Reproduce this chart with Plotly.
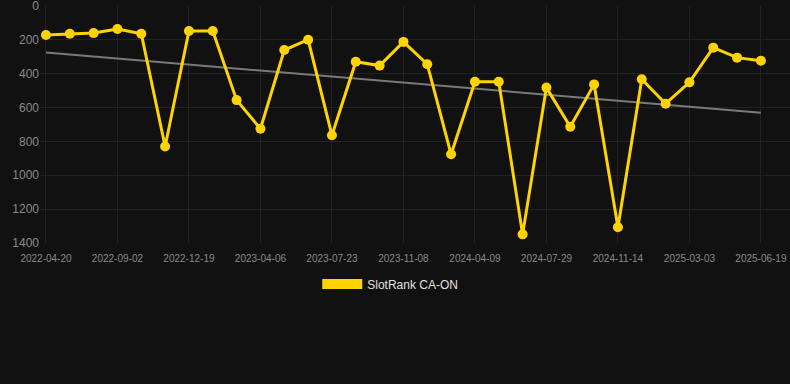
import plotly.graph_objects as go

dates = ["2022-04-20", "2022-06-04", "2022-07-19", "2022-09-02", "2022-10-08", "2022-11-13",
         "2022-12-19", "2023-01-24", "2023-02-28", "2023-04-06", "2023-05-12", "2023-06-17",
         "2023-07-23", "2023-08-28", "2023-10-03", "2023-11-08", "2023-12-29", "2024-02-18",
         "2024-04-09", "2024-05-16", "2024-06-22", "2024-07-29", "2024-09-03", "2024-10-09",
         "2024-11-14", "2024-12-20", "2025-01-25", "2025-03-03", "2025-04-08", "2025-05-14",
         "2025-06-19"]
rank = [171, 164, 160, 136, 164, 830, 148, 148, 556, 725, 260, 199, 764, 329, 352, 212,
        344, 876, 447, 447, 1349, 482, 713, 463, 1307, 433, 577, 451, 246, 305, 323]
trend_x = [dates[0], dates[-1]]
trend_y = [275, 630]
series_name = "SlotRank CA-ON"

YELLOW = "#FFD300"
fig = go.Figure()
fig.add_trace(go.Scatter(x=trend_x, y=trend_y, mode="lines",
                         line=dict(color="#7a7a7a", width=2), showlegend=False,
                         hoverinfo="skip"))
fig.add_trace(go.Scatter(x=dates, y=rank, mode="lines+markers", name=series_name,
                         line=dict(color=YELLOW, width=3),
                         marker=dict(color=YELLOW, size=10), showlegend=False))
# legend entry (rectangle swatch)
fig.add_trace(go.Scatter(x=[None], y=[None], mode="lines", name=series_name,
                         line=dict(color=YELLOW, width=12), showlegend=True))

fig.update_layout(
    width=790, height=384,
    paper_bgcolor="#111111", plot_bgcolor="#111111",
    margin=dict(l=40, r=0, t=6, b=141),
    font=dict(family="Liberation Sans, Arial, sans-serif", color="#8a8a8a"),
    legend=dict(orientation="h", x=0.467, xanchor="center", y=-0.173, yanchor="middle",
                font=dict(size=12, color="#e0e0e0"), itemwidth=40,
                bgcolor="rgba(0,0,0,0)"),
    xaxis=dict(type="category", categoryorder="array", categoryarray=dates,
               range=[-0.25, 31.22], tickmode="array",
               tickvals=dates[::3], ticktext=dates[::3],
               tickfont=dict(size=10, color="#8a8a8a"),
               showgrid=True, gridcolor="#222222", gridwidth=1,
               zeroline=False, showline=False, ticks="outside", ticklen=6,
               tickcolor="rgba(0,0,0,0)", ticklabeloverflow="allow"),
    yaxis=dict(range=[1400, 0], tickvals=[0, 200, 400, 600, 800, 1000, 1200, 1400],
               tickfont=dict(size=12, color="#8a8a8a"),
               showgrid=True, gridcolor="#222222", gridwidth=1,
               zeroline=False, showline=False, ticks="", ticklabeloverflow="allow"),
    hovermode="closest",
)
fig.write_html("out.html", config={"displayModeBar": False},
               post_script="document.body.style.margin='0';document.body.style.background='#111111';")
